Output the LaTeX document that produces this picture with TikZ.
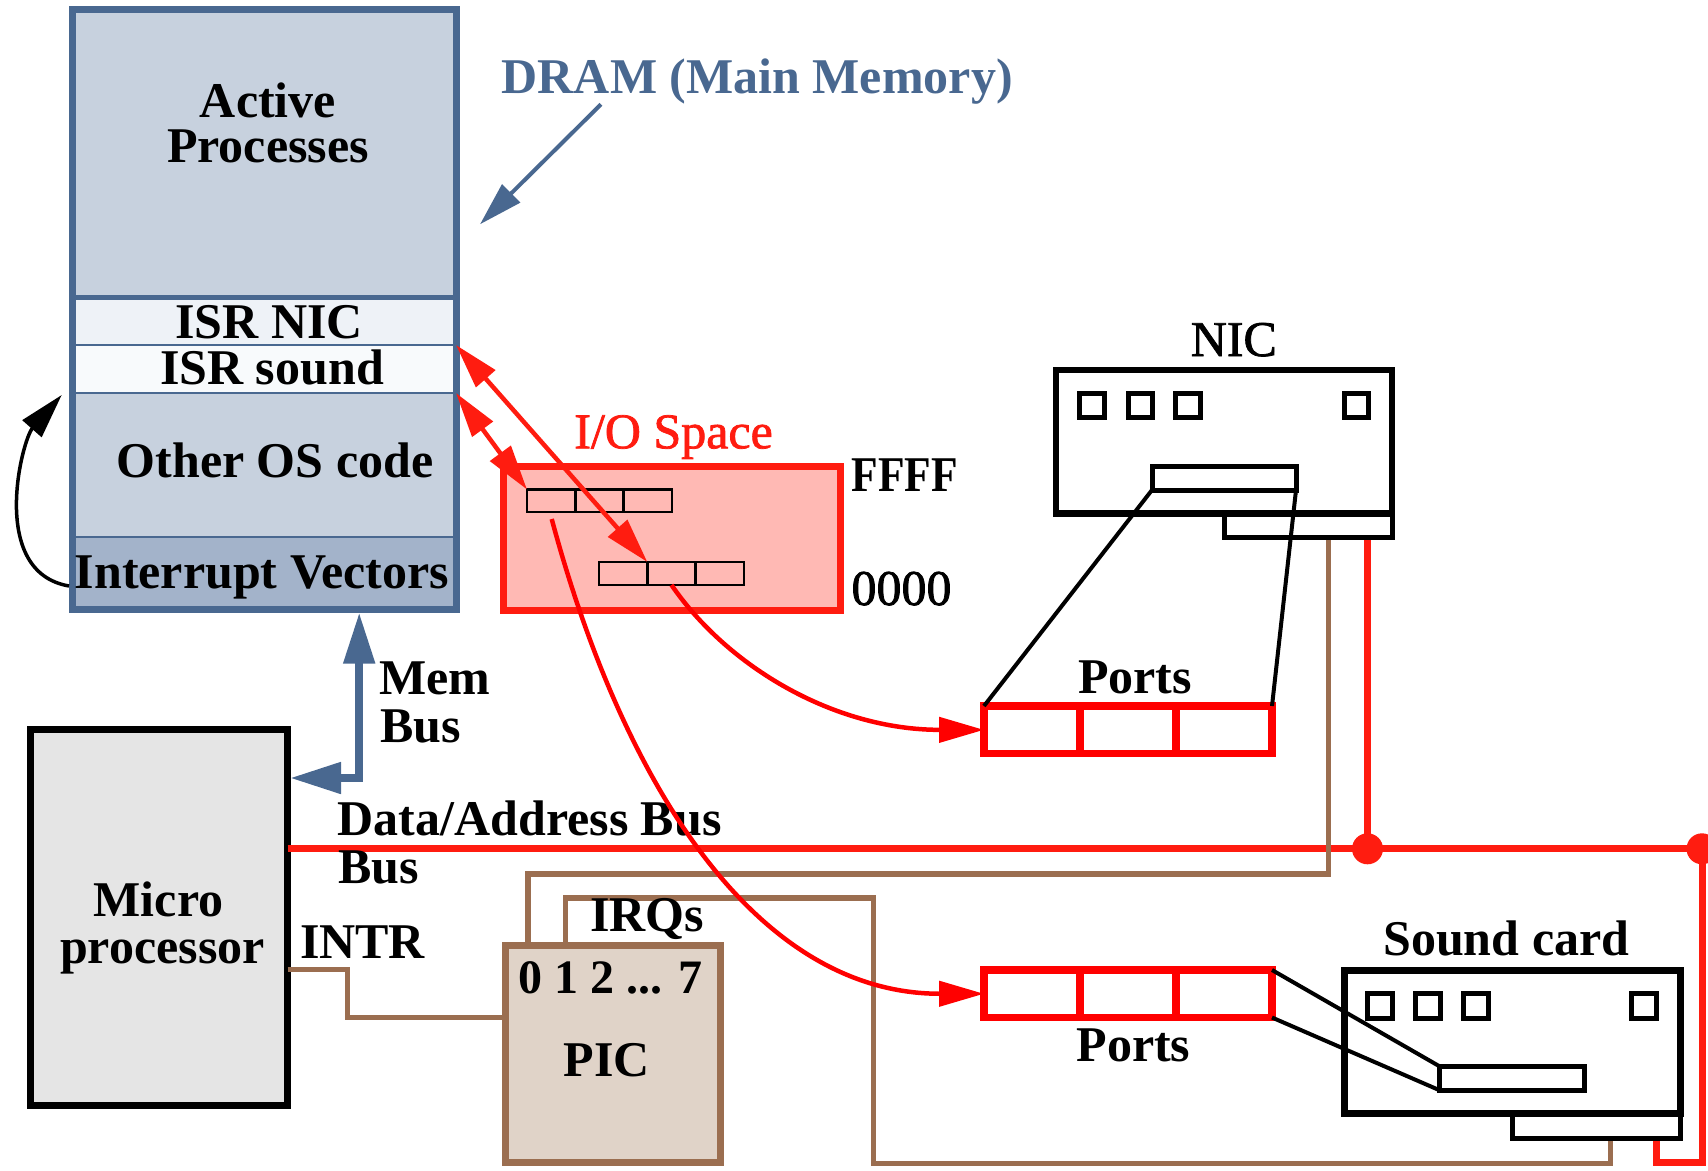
\documentclass[tikz,border=0pt]{standalone}
\usepackage{fontspec}
\setmainfont{Liberation Serif}
\newfontfamily\medserif[FakeBold=1.5]{Liberation Serif}
\usetikzlibrary{arrows.meta,calc}

\definecolor{memblue}{RGB}{73,104,144}
\definecolor{memfill}{RGB}{199,209,222}
\definecolor{nicfill}{RGB}{238,242,247}
\definecolor{sndfill}{RGB}{248,250,252}
\definecolor{vecfill}{RGB}{163,179,202}
\definecolor{bred}{RGB}{255,28,16}
\definecolor{pred}{RGB}{255,0,0}
\definecolor{iofill}{RGB}{255,185,180}
\definecolor{cpufill}{RGB}{229,229,229}
\definecolor{picfill}{RGB}{224,211,200}
\definecolor{wirebrown}{RGB}{155,110,80}

\tikzset{
  box/.style={rectangle, inner sep=0pt, outer sep=0pt},
  lab/.style={inner sep=0pt, outer sep=0pt, font=\medserif\fontsize{50}{58}\selectfont},
  blab/.style={inner sep=0pt, outer sep=0pt, font=\fontsize{50}{58}\selectfont\bfseries},
  memsect/.style={box, draw=memblue, line width=2.5pt, minimum width=383.3pt},
  wire/.style={draw=wirebrown, line width=5.5pt},
  bus/.style={draw=bred, line width=7pt},
  link/.style={draw=black, line width=4pt},
  rhead/.tip={Triangle[length=45pt,width=25pt]},
  cell/.style={box, draw=black, line width=5pt},
}

\begin{document}
\begin{tikzpicture}[x=1pt,y=-1pt,line join=miter]
\useasboundingbox (0,0) rectangle (1708,1170);

% ---------- main memory ----------
\node[memsect, fill=memfill, minimum height=287.5pt] (active)   at (264.35,153.25) {};
\node[memsect, fill=nicfill, minimum height=48pt]    (isrnic)   at (264.35,321) {};
\node[memsect, fill=sndfill, minimum height=48pt]    (isrsound) at (264.35,369) {};
\node[memsect, fill=memfill, minimum height=144pt]   (otheros)  at (264.35,465) {};
\node[memsect, fill=vecfill, minimum height=72pt]    (ivec)     at (264.35,573) {};
\draw[memblue, line width=5pt] (active.south west) -- (active.south east);
\node[box, draw=memblue, line width=7pt, minimum width=383.3pt, minimum height=599.5pt] (dram) at (264.35,309.25) {};

\node[blab, align=center, font=\fontsize{50}{45}\selectfont\bfseries, anchor=base] (activelbl) at (268,162) {Active\\Processes};
\node[blab, anchor=base] at (269,338) {ISR NIC};
\node[blab, anchor=base] at (272,384) {ISR sound};
\node[blab, anchor=base] at (275,477.5) {Other OS code};
\node[blab, anchor=base] at (262,588) {Interrupt Vectors};

\node[blab, anchor=base west, text=memblue] (dramlbl) at (501.7,93.3) {DRAM (Main Memory)};
\coordinate (dramtail) at (601,104.3);
\coordinate (dramtip) at (480,224.3);
\draw[memblue, line width=4pt, -{Triangle[length=44pt,width=25pt]}] (dramtail) -- (dramtip);

% ---------- processor ----------
\node[box, draw=black, fill=cpufill, line width=7pt, minimum width=257.7pt, minimum height=376pt] (cpu) at (158.85,917.8) {};
\node[blab, anchor=base] at (158.5,916.4) {Micro};
\node[blab, anchor=base] at (162.4,963.7) {processor};

% ---------- interrupt controller ----------
\node[box, draw=wirebrown, fill=picfill, line width=7pt, minimum width=215pt, minimum height=216.5pt] (pic) at (612.5,1053.75) {};
\node[blab, anchor=base west, font=\fontsize{48}{56}\selectfont\bfseries] at (518.5,993) {0 1 2 ... 7};
\node[blab, anchor=base] at (607,1076) {PIC};

% ---------- system bus ----------
\coordinate (busL) at (287.7,848.8);
\coordinate (busJ1) at (1367.5,848.8);
\coordinate (busJ2) at (1702,848.8);
\coordinate (nicBus) at (1367.5,537.5);
\coordinate (sndBus) at (1656,1138);
\draw[bus] (busL) -- (busJ2);
\draw[bus] (nicBus) -- (busJ1);
\draw[bus] (busJ2) -- ++(0,313.2) -| (sndBus);
\fill[bred] (busJ1) circle[radius=15.5pt];
\fill[bred] (busJ2) circle[radius=15.5pt];

% ---------- interrupt wires ----------
\coordinate (intrOut) at (287.7,969.7);
\coordinate (picIn) at (505,1017.4);
\coordinate (irq0) at (527.8,945.5);
\coordinate (irq1) at (565.5,945.5);
\coordinate (nicIrq) at (1328.3,537.5);
\coordinate (sndIrq) at (1610.5,1138);
\draw[wire] (intrOut) -- ++(59.8,0) |- (picIn);
\draw[wire] (irq0) -- ++(0,-71.7) -| (nicIrq);
\draw[wire] (irq1) -- ++(0,-47.3) -- ++(308,0) -- ++(0,265.1) -| (sndIrq);

% ---------- network card ----------
\node[cell, minimum width=168pt, minimum height=23.8pt] (nictab) at (1308,525.6) {};
\node[box, draw=black, fill=white, line width=6.5pt, minimum width=336pt, minimum height=143.7pt] (nic) at (1224,441.85) {};
\foreach \i/\x in {1/1092,2/1140.35,3/1188,4/1356.35}
  \node[cell, minimum size=24.5pt] (nicq\i) at (\x,405.5) {};
\node[cell, minimum width=144pt, minimum height=24pt] (nicslot) at (1224,478) {};
\node[lab, anchor=base] at (1233.8,356) {NIC};

% ---------- sound card ----------
\node[cell, minimum width=168pt, minimum height=24.7pt] (sndtab) at (1596,1125.65) {};
\node[box, draw=black, fill=white, line width=7pt, minimum width=336pt, minimum height=143.3pt] (snd) at (1512,1041.65) {};
\foreach \i/\x in {1/1380,2/1427.7,3/1475.7,4/1644.3}
  \node[cell, minimum size=25pt] (sndq\i) at (\x,1005.7) {};
\node[cell, minimum width=145pt, minimum height=24pt] (sndslot) at (1511.5,1078) {};
\node[blab, anchor=base west] at (1383.3,955) {Sound card};

% ---------- device ports ----------
\node[box, draw=pred, line width=7.5pt, minimum width=288pt, minimum height=47.7pt] (portsN) at (1128,729.85) {};
\node[box, draw=pred, line width=7.5pt, minimum width=288pt, minimum height=47.5pt] (portsS) at (1128,993.75) {};
\foreach \p in {portsN,portsS}{
  \draw[pred, line width=7.5pt] ($(\p.north west)!1/3!(\p.north east)$) -- ($(\p.south west)!1/3!(\p.south east)$);
  \draw[pred, line width=7.5pt] ($(\p.north west)!2/3!(\p.north east)$) -- ($(\p.south west)!2/3!(\p.south east)$);
}
\node[blab, anchor=base] at (1135,693.3) {Ports};
\node[blab, anchor=base] at (1133.5,1061.7) {Ports};

\draw[link] (nicslot.south west) -- (portsN.north west);
\draw[link] (nicslot.south east) -- (portsN.north east);
\draw[link] (portsS.north east) -- (sndslot.north west);
\draw[link] (portsS.south east) -- (sndslot.south west);

% ---------- I/O address space ----------
\node[box, draw=bred, fill=iofill, line width=7pt, minimum width=336.3pt, minimum height=143.7pt] (io) at (671.85,538.15) {};
\node[box, draw=black, line width=2.8pt, minimum width=145pt, minimum height=22.5pt] (slotA) at (599.5,500.75) {};
\node[box, draw=black, line width=2.8pt, minimum width=145pt, minimum height=23pt] (slotB) at (671.5,573.5) {};
\foreach \s in {slotA,slotB}{
  \draw[line width=2.8pt] ($(\s.north west)!1/3!(\s.north east)$) -- ($(\s.south west)!1/3!(\s.south east)$);
  \draw[line width=2.8pt] ($(\s.north west)!2/3!(\s.north east)$) -- ($(\s.south west)!2/3!(\s.south east)$);
}
\node[lab, anchor=base west, text=bred] at (574.3,448.3) {I/O Space};
\node[blab, anchor=base west] at (851.5,491.7) {\scalebox{0.87}[1]{FFFF}};
\node[lab, anchor=base west] at (851.5,605) {0000};

% ---------- bus labels ----------
\node[blab, anchor=base west] at (379.5,694.3) {Mem};
\node[blab, anchor=base west] at (380.5,742.7) {Bus};
\node[blab, anchor=base west] at (337.7,835) {Data/Address Bus};
\node[blab, anchor=base west] at (338.3,883.3) {Bus};
\node[blab, anchor=base west] at (300,958.5) {INTR};
\node[blab, anchor=base west] at (590,931.6) {IRQs};

% ---------- memory bus ----------
\coordinate (memL) at (290,778);
\coordinate (memT) at (359.2,612.5);
\draw[memblue, line width=8pt, {Triangle[length=51pt,width=30pt]}-{Triangle[length=51pt,width=30pt]}] (memL) -| (memT);

% ---------- mappings between memory, I/O space and ports ----------
\draw[bred, line width=4.5pt, rhead-rhead] (isrsound.north east) -- ($(slotB.north west)!1/3!(slotB.north east)$);
\draw[bred, line width=4.5pt, rhead-rhead] (otheros.north east) -- (slotA.north west);
\coordinate (aStart) at (551.7,519);
\draw[pred, line width=4.5pt, -rhead] (aStart) .. controls (623.2,784.7) and (756,993.75) .. (portsS.west);
\draw[pred, line width=4.5pt, -rhead] (slotB.south) .. controls (727.5,666.6) and (834,729.85) .. (portsN.west);

% ---------- vector lookup ----------
\coordinate (vecOut) at (69,586);
\coordinate (vecTip) at (61.7,395);
\draw[black, line width=3.5pt, -{Triangle[length=45pt,width=25pt]}] (vecOut) .. controls (-12,572) and (22,440) .. (vecTip);
\end{tikzpicture}
\end{document}
